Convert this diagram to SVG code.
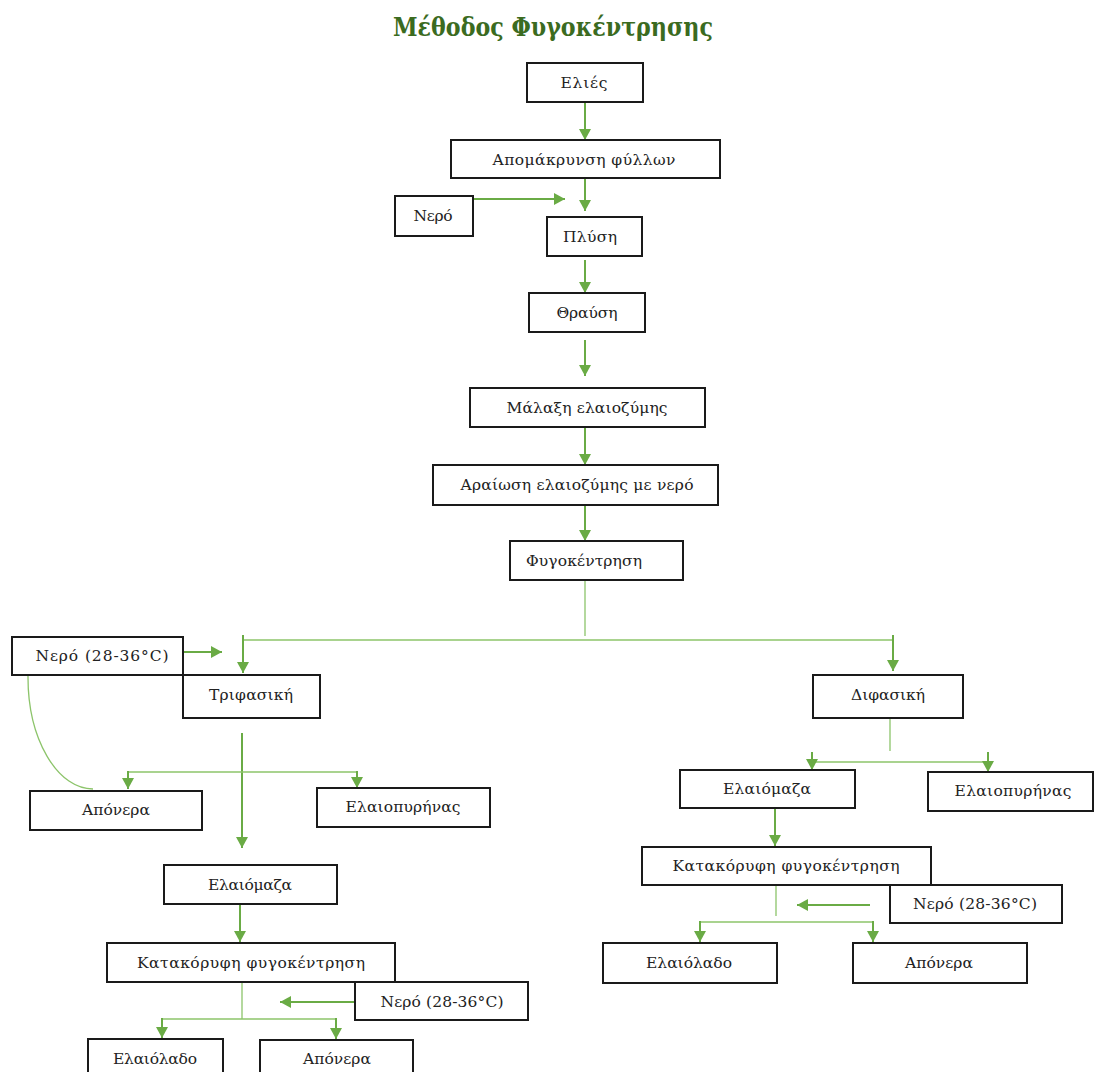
<svg xmlns="http://www.w3.org/2000/svg" width="1095" height="1072" viewBox="0 0 1095 1072">
<style>
.box rect{fill:#fff;stroke:#1a1a1a;stroke-width:2}
.box text{font-family:"DejaVu Serif","Liberation Serif",serif;font-size:15.5px;fill:#222;text-anchor:middle}
.title{font-family:"DejaVu Serif","Liberation Serif",serif;font-size:26px;font-weight:bold;fill:#3b6b1f;text-anchor:middle}
.a{stroke:#6aab45;stroke-width:2;fill:none;marker-end:url(#arr)}
.t{stroke:#8cc46a;stroke-width:1.3;fill:none}
</style>
<defs>
<marker id="arr" markerUnits="userSpaceOnUse" markerWidth="11" markerHeight="12" refX="11" refY="6" orient="auto">
<path d="M0,0 L11,6 L0,12 z" fill="#6aab45"/>
</marker>
</defs>
<rect width="1095" height="1072" fill="#fff"/>
<text class="title" x="553" y="36" textLength="320" lengthAdjust="spacingAndGlyphs">Μέθοδος Φυγοκέντρησης</text>

<g id="connectors">
<line class="a" x1="585" y1="102" x2="585" y2="140"/>
<line class="a" x1="585" y1="178" x2="585" y2="211"/>
<line class="a" x1="473" y1="199" x2="565" y2="199"/>
<line class="a" x1="585" y1="260" x2="585" y2="293"/>
<line class="a" x1="585" y1="340" x2="585" y2="376"/>
<line class="a" x1="585" y1="427" x2="585" y2="465"/>
<line class="a" x1="585" y1="505" x2="585" y2="541"/>
<line class="t" x1="585" y1="580" x2="585" y2="636"/>
<line class="t" x1="243" y1="640" x2="893" y2="640"/>
<line class="a" x1="243" y1="635" x2="243" y2="673"/>
<line class="a" x1="893" y1="635" x2="893" y2="671"/>
<line class="a" x1="183" y1="652" x2="222" y2="652"/>
<path class="t" d="M28,676 A65,112 0 0 0 93,789"/>
<line class="a" x1="242" y1="733" x2="242" y2="848"/>
<line class="t" x1="128" y1="772" x2="357" y2="772"/>
<line class="a" x1="128" y1="771" x2="128" y2="789"/>
<line class="a" x1="357" y1="771" x2="357" y2="788"/>
<line class="t" x1="890" y1="719" x2="890" y2="751"/>
<line class="t" x1="812" y1="762" x2="988" y2="762"/>
<line class="a" x1="812" y1="752" x2="812" y2="770"/>
<line class="a" x1="988" y1="752" x2="988" y2="772"/>
<line class="a" x1="775" y1="808" x2="775" y2="846"/>
<line class="t" x1="776" y1="885" x2="776" y2="916"/>
<line class="a" x1="870" y1="905" x2="797" y2="905"/>
<line class="t" x1="700" y1="922" x2="873" y2="922"/>
<line class="a" x1="700" y1="921" x2="700" y2="942"/>
<line class="a" x1="873" y1="921" x2="873" y2="942"/>
<line class="a" x1="240" y1="905" x2="240" y2="942"/>
<line class="t" x1="242" y1="982" x2="242" y2="1019"/>
<line class="a" x1="355" y1="1002" x2="280" y2="1002"/>
<line class="t" x1="162" y1="1019" x2="336" y2="1019"/>
<line class="a" x1="162" y1="1018" x2="162" y2="1038"/>
<line class="a" x1="336" y1="1018" x2="336" y2="1039"/>
</g>

<g id="n-elies" class="box"><rect x="527" y="63" width="116" height="39"/><text x="584" y="88" textLength="47">Ελιές</text></g>
<g id="n-apomakrynsi" class="box"><rect x="451" y="140" width="269" height="38"/><text x="584" y="165" textLength="183">Απομάκρυνση φύλλων</text></g>
<g id="n-nero1" class="box"><rect x="395" y="196" width="78" height="40"/><text x="433" y="221" textLength="39">Νερό</text></g>
<g id="n-plysi" class="box"><rect x="547" y="217" width="95" height="39"/><text x="590" y="242" textLength="54">Πλύση</text></g>
<g id="n-thraysi" class="box"><rect x="529" y="293" width="116" height="39"/><text x="587" y="318" textLength="61">Θραύση</text></g>
<g id="n-malaxi" class="box"><rect x="470" y="388" width="235" height="39"/><text x="587" y="413" textLength="161">Μάλαξη ελαιοζύμης</text></g>
<g id="n-araiosi" class="box"><rect x="433" y="465" width="285" height="40"/><text x="577" y="490" textLength="233">Αραίωση ελαιοζύμης με νερό</text></g>
<g id="n-fygokentrisi" class="box"><rect x="510" y="541" width="173" height="39"/><text x="584" y="566" textLength="116">Φυγοκέντρηση</text></g>
<g id="n-nero2" class="box"><rect x="12" y="637" width="171" height="38"/><text x="102" y="661" textLength="133">Νερό (28-36°C)</text></g>
<g id="n-trifasiki" class="box"><rect x="183" y="675" width="137" height="43"/><text x="251" y="700" textLength="84">Τριφασική</text></g>
<g id="n-aponera1" class="box"><rect x="30" y="791" width="172" height="39"/><text x="116" y="815" textLength="68">Απόνερα</text></g>
<g id="n-elaiopyrinas1" class="box"><rect x="317" y="788" width="173" height="39"/><text x="403" y="812" textLength="115">Ελαιοπυρήνας</text></g>
<g id="n-difasiki" class="box"><rect x="813" y="675" width="150" height="43"/><text x="888" y="700" textLength="74">Διφασική</text></g>
<g id="n-elaiomaza2" class="box"><rect x="680" y="770" width="175" height="38"/><text x="767" y="794" textLength="88">Ελαιόμαζα</text></g>
<g id="n-elaiopyrinas2" class="box"><rect x="928" y="772" width="165" height="39"/><text x="1013" y="796" textLength="117">Ελαιοπυρήνας</text></g>
<g id="n-katakoryfi2" class="box"><rect x="642" y="847" width="289" height="38"/><text x="786" y="871" textLength="227">Κατακόρυφη φυγοκέντρηση</text></g>
<g id="n-nero4" class="box"><rect x="890" y="885" width="172" height="38"/><text x="975" y="909" textLength="124">Νερό (28-36°C)</text></g>
<g id="n-elaiolado2" class="box"><rect x="603" y="943" width="174" height="40"/><text x="689" y="968" textLength="86">Ελαιόλαδο</text></g>
<g id="n-aponera3" class="box"><rect x="853" y="943" width="174" height="40"/><text x="939" y="968" textLength="68">Απόνερα</text></g>
<g id="n-elaiomaza1" class="box"><rect x="164" y="865" width="173" height="39"/><text x="250" y="890" textLength="84">Ελαιόμαζα</text></g>
<g id="n-katakoryfi1" class="box"><rect x="107" y="943" width="288" height="39"/><text x="251" y="968" textLength="228">Κατακόρυφη φυγοκέντρηση</text></g>
<g id="n-nero3" class="box"><rect x="355" y="982" width="173" height="38"/><text x="442" y="1007" textLength="123">Νερό (28-36°C)</text></g>
<g id="n-elaiolado1" class="box"><rect x="88" y="1039" width="135" height="40"/><text x="155" y="1064" textLength="84">Ελαιόλαδο</text></g>
<g id="n-aponera2" class="box"><rect x="260" y="1040" width="153" height="40"/><text x="337" y="1064" textLength="68">Απόνερα</text></g>
</svg>
